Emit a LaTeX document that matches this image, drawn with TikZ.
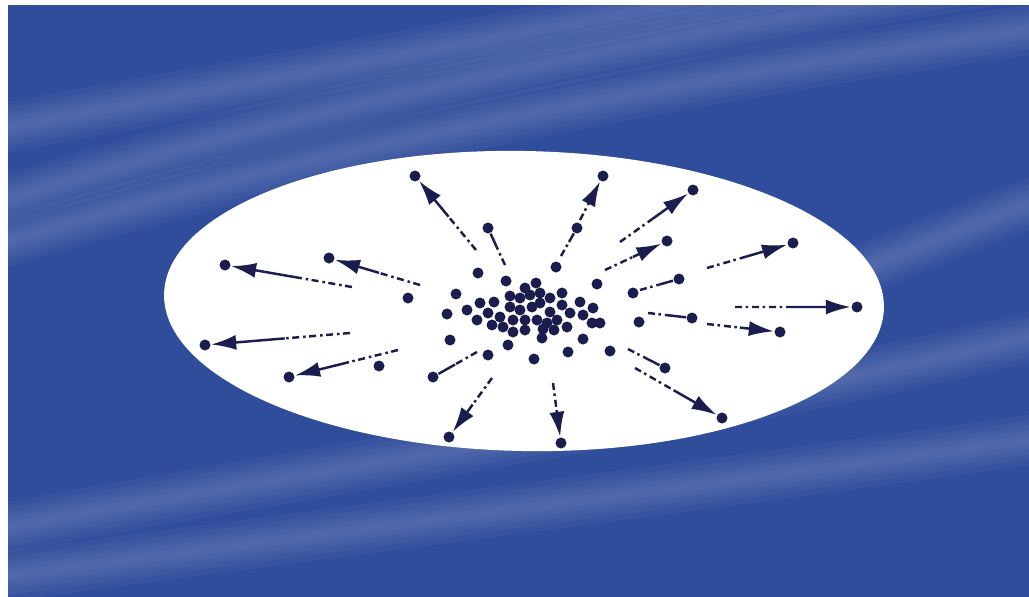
\documentclass[tikz,border=0pt]{standalone}
\usepackage{tikz}
\usetikzlibrary{arrows.meta,calc}
\definecolor{SkyBlue}{HTML}{304D9C}
\definecolor{DotNavy}{HTML}{1A1D4E}

\begin{document}
\begin{tikzpicture}[
  x=0.1mm, y=-0.1mm,
  dot/.style={circle,fill=DotNavy,inner sep=0pt,minimum size=1.1mm},
  move/.style={-{Latex[length=2.5mm,width=1.5mm]},DotNavy,line width=0.7pt},
  trail/.style={DotNavy,line width=0.7pt,dash pattern=on 0.7mm off 0.35mm on 0.25mm off 0.4mm},
  tail/.style={DotNavy,line width=0.7pt},
  streak/.style={white,opacity=0.035}
]
\useasboundingbox (0,0) rectangle (1029,597);
\fill[white] (0,0) rectangle (1029,597);
\fill[SkyBlue] (8,5) rectangle (1029,597);

% light streaks in the background
\begin{scope}
\clip (8,5) rectangle (1029,597);
\foreach \w in {5mm,3.8mm,2.8mm,1.9mm,1mm} {
  \draw[streak,line width=\w] (-60,222) .. controls (150,150) and (500,60) .. (1000,-20);
  \draw[streak,line width=\w] (-60,262) .. controls (200,180) and (550,95) .. (1100,20);
  \draw[streak,line width=\w] (-60,140) .. controls (200,90) and (450,50) .. (800,-20);
  \draw[streak,line width=\w] (760,310) .. controls (900,255) and (990,215) .. (1100,180);
  \draw[streak,line width=\w] (-60,540) .. controls (300,470) and (700,420) .. (1100,320);
  \draw[streak,line width=\w] (-60,585) .. controls (350,530) and (750,480) .. (1100,430);
}
\end{scope}

% the cloud
\fill[white,rotate around={-1.1:(524,301)}] (524,301) ellipse [x radius=360,y radius=150];

% dots near the centre
\foreach \x/\y [count=\i] in {478/273,506/281,536/283,525/288,597/284,456/294,480/303,494/302,
  510/296,520/298,530/295,540/293,550/298,562/293,580/302,593/308,447/314,467/310,488/313,
  500/317,510/307,520/310,532/307,540/303,550/312,562/305,570/313,583/315,477/320,492/325,
  503/327,513/320,525/320,537/320,547/323,557/320,567/327,592/323,600/323,513/332,525/330,
  543/329,554/330,450/340,508/345,542/338,583/339,488/355,534/359,568/352,610/351,408/298,
  379/366,556/267,633/293,639/322}
  \node[dot] (c\i) at (\x,\y) {};

% dots flying out
\foreach \tx/\ty/\dx/\dy [count=\i] in {352/287/225/265,420/285/329/258,350/333/205/345,
  398/350/289/377,476/250/415/176,492/378/449/437,580/220/603/176,620/242/693/190,
  605/270/667/241,707/268/793/243,735/307/857/307,707/324/780/332,635/368/722/418,
  553/383/561/443} {
  \node[dot] (p\i) at (\dx,\dy) {};
  \coordinate (t\i) at (\tx,\ty);
  \draw[trail] (t\i) -- ($(t\i)!.45!(p\i)$);
  \draw[move] ($(t\i)!.45!(p\i)$) -- (p\i);
}

% short trails, no heads
\foreach \tx/\ty/\dx/\dy [count=\i] in {477/352/433/377,505/265/488/228,561/256/577/228,
  640/290/679/279,648/313/692/318,628/349/665/368} {
  \node[dot] (q\i) at (\dx,\dy) {};
  \coordinate (s\i) at (\tx,\ty);
  \draw[trail] (s\i) -- ($(s\i)!.5!(q\i)$);
  \draw[tail] ($(s\i)!.5!(q\i)$) -- (q\i);
}
\end{tikzpicture}
\end{document}
